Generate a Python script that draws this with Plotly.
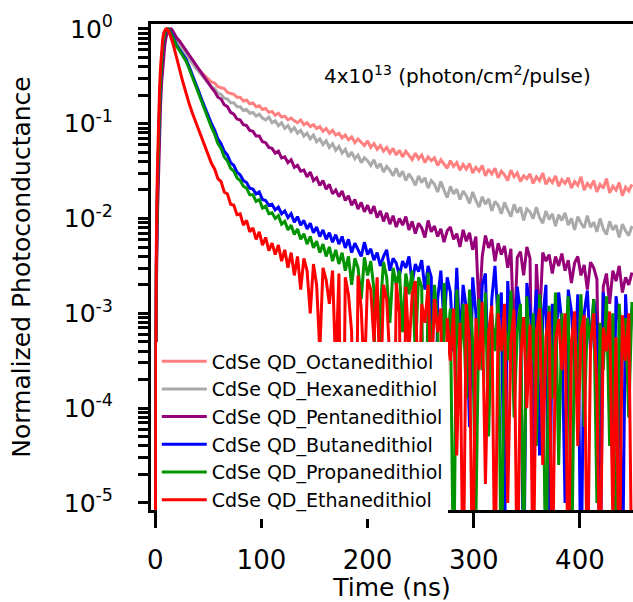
import plotly.graph_objects as go

# Sample times (ns): 1 ns steps through the rise, then 3 ns steps
time_ns = list(range(0, 21)) + list(range(23, 450, 3))

# log10 of normalized photoconductance
octane_log10 = [
    -6.0, -2.6, -1.8, -1.3, -0.95, -0.65, -0.42, -0.26, -0.15, -0.08, -0.04, -0.01, 0.0, 0.0, -0.01, -0.02, -0.04, -0.06, -0.08, -0.10, -0.12,
    -0.17, -0.22, -0.26, -0.31, -0.35, -0.40, -0.43, -0.47, -0.50, -0.52,
    -0.56, -0.57, -0.61, -0.62, -0.63, -0.67, -0.68, -0.69, -0.72, -0.72,
    -0.76, -0.75, -0.79, -0.78, -0.82, -0.81, -0.85, -0.84, -0.88, -0.87,
    -0.91, -0.89, -0.93, -0.92, -0.96, -0.94, -0.97, -0.99, -0.96, -1.01,
    -0.99, -1.03, -1.01, -1.05, -1.03, -1.08, -1.05, -1.10, -1.07, -1.12,
    -1.10, -1.15, -1.12, -1.17, -1.14, -1.20, -1.16, -1.19, -1.23, -1.18,
    -1.25, -1.21, -1.27, -1.23, -1.29, -1.25, -1.31, -1.26, -1.33, -1.28,
    -1.35, -1.29, -1.34, -1.38, -1.31, -1.37, -1.33, -1.41, -1.35, -1.39,
    -1.36, -1.44, -1.38, -1.42, -1.47, -1.39, -1.45, -1.41, -1.49, -1.43,
    -1.48, -1.42, -1.52, -1.46, -1.50, -1.44, -1.55, -1.48, -1.53, -1.47,
    -1.57, -1.50, -1.54, -1.60, -1.49, -1.56, -1.52, -1.61, -1.55, -1.58,
    -1.53, -1.63, -1.56, -1.60, -1.52, -1.64, -1.58, -1.62, -1.55, -1.66,
    -1.59, -1.63, -1.57, -1.68, -1.61, -1.65, -1.56, -1.70, -1.63, -1.67,
    -1.60, -1.72, -1.64, -1.68, -1.58, -1.73, -1.66, -1.70, -1.62, -1.76,
    -1.67, -1.71, -1.64,
]
hexane_log10 = [
    -6.0, -2.6, -1.8, -1.3, -0.95, -0.65, -0.42, -0.26, -0.15, -0.08, -0.04, -0.01, 0.0, 0.0, -0.01, -0.02, -0.04, -0.06, -0.08, -0.10, -0.12,
    -0.17, -0.22, -0.27, -0.32, -0.36, -0.41, -0.45, -0.49, -0.53, -0.56,
    -0.61, -0.63, -0.68, -0.69, -0.73, -0.74, -0.78, -0.78, -0.82, -0.82,
    -0.86, -0.85, -0.89, -0.88, -0.92, -0.90, -0.94, -0.96, -0.93, -0.99,
    -0.97, -1.02, -0.99, -1.05, -1.02, -1.08, -1.04, -1.10, -1.07, -1.13,
    -1.10, -1.16, -1.12, -1.19, -1.16, -1.22, -1.18, -1.25, -1.21, -1.28,
    -1.24, -1.31, -1.27, -1.35, -1.30, -1.37, -1.33, -1.41, -1.36, -1.39,
    -1.44, -1.38, -1.47, -1.42, -1.51, -1.45, -1.49, -1.55, -1.47, -1.56,
    -1.50, -1.60, -1.53, -1.58, -1.65, -1.55, -1.62, -1.57, -1.68, -1.60,
    -1.64, -1.72, -1.61, -1.70, -1.78, -1.66, -1.74, -1.69, -1.80, -1.71,
    -1.76, -1.84, -1.72, -1.81, -1.88, -1.77, -1.85, -1.79, -1.92, -1.82,
    -1.86, -1.95, -1.83, -1.91, -1.98, -1.85, -1.94, -1.88, -2.02, -1.90,
    -1.93, -2.00, -1.88, -1.99, -2.05, -1.92, -2.01, -1.95, -2.08, -1.96,
    -2.02, -1.94, -2.07, -2.00, -2.12, -1.98, -2.05, -2.10, -1.97, -2.09,
    -2.04, -2.14, -2.00, -2.11, -2.17, -2.03, -2.12, -2.07, -2.20, -2.06,
    -2.13, -2.18, -2.08,
]
pentane_log10 = [
    -6.0, -2.8, -2.0, -1.5, -1.1, -0.80, -0.57, -0.40, -0.27, -0.17, -0.10, -0.05, -0.02, -0.005, 0.0, 0.0, -0.01, -0.03, -0.05, -0.07, -0.09,
    -0.13, -0.18, -0.23, -0.28, -0.33, -0.38, -0.43, -0.48, -0.53, -0.57,
    -0.62, -0.66, -0.72, -0.74, -0.80, -0.82, -0.88, -0.90, -0.95, -0.96,
    -1.01, -1.02, -1.07, -1.08, -1.13, -1.13, -1.19, -1.20, -1.25, -1.26,
    -1.31, -1.29, -1.36, -1.35, -1.41, -1.38, -1.46, -1.44, -1.50, -1.49,
    -1.56, -1.51, -1.60, -1.57, -1.65, -1.60, -1.69, -1.64, -1.74, -1.70,
    -1.77, -1.71, -1.81, -1.76, -1.86, -1.80, -1.90, -1.83, -1.93, -1.86,
    -1.95, -1.87, -1.99, -1.92, -2.03, -1.94, -2.06, -1.97, -2.09, -2.00,
    -2.07, -1.98, -2.12, -2.03, -2.16, -2.05, -2.10, -2.20, -2.02, -2.14,
    -2.08, -2.19, -2.11, -2.25, -2.13, -2.09, -2.22, -2.16, -2.30, -2.12,
    -2.24, -2.15, -2.33, -2.19, -3.00, -2.40, -2.18, -2.31, -2.22, -2.45,
    -2.26, -2.38, -2.29, -2.52, -2.32, -3.30, -2.41, -2.35, -2.60, -2.30,
    -2.42, -4.70, -2.48, -3.10, -2.36, -2.45, -2.38, -2.58, -2.40, -2.50,
    -2.37, -2.55, -2.44, -2.68, -2.47, -2.40, -2.60, -2.49, -2.75, -2.46,
    -2.52, -2.64, -4.50, -2.72, -2.58, -2.90, -2.55, -2.66, -2.50, -2.78,
    -2.62, -2.70, -2.57,
]
butane_log10 = [
    -6.0, -2.5, -1.7, -1.2, -0.85, -0.56, -0.34, -0.19, -0.10, -0.04, -0.01, 0.0, 0.0, -0.01, -0.02, -0.04, -0.06, -0.08, -0.11, -0.14, -0.17,
    -0.22, -0.27, -0.32, -0.40, -0.48, -0.57, -0.66, -0.75, -0.84, -0.92,
    -1.00, -1.07, -1.16, -1.21, -1.29, -1.33, -1.41, -1.44, -1.51, -1.54,
    -1.60, -1.62, -1.68, -1.69, -1.74, -1.72, -1.80, -1.81, -1.86, -1.85,
    -1.91, -1.88, -1.95, -1.92, -1.99, -1.95, -2.04, -1.98, -2.07, -2.02,
    -2.11, -2.05, -2.15, -2.09, -2.19, -2.12, -2.22, -2.15, -2.25, -2.17,
    -2.27, -2.19, -2.31, -2.22, -2.36, -2.26, -2.33, -2.40, -2.25, -2.38,
    -2.32, -2.44, -2.36, -2.50, -2.40, -2.33, -2.55, -2.42, -2.47, -2.60,
    -2.45, -2.52, -2.40, -2.68, -2.48, -2.56, -2.44, -2.75, -2.50, -2.62,
    -6.00, -2.85, -2.55, -3.10, -2.62, -2.78, -3.40, -2.52, -3.30, -2.70,
    -2.95, -4.20, -2.62, -3.00, -3.50, -2.70, -2.58, -3.80, -2.85, -2.50,
    -3.10, -2.78, -5.50, -2.66, -3.20, -3.70, -2.72, -3.00, -6.00, -2.68,
    -2.95, -3.30, -2.75, -4.50, -3.05, -2.70, -6.00, -2.90, -3.40, -2.78,
    -3.10, -5.00, -2.75, -2.98, -3.60, -2.80, -6.00, -3.00, -2.76, -3.40,
    -2.85, -3.15, -6.00, -2.78, -3.30, -3.00, -4.80, -2.82, -3.10, -6.00,
    -2.80, -3.50, -2.95,
]
propane_log10 = [
    -6.0, -2.5, -1.7, -1.2, -0.85, -0.56, -0.34, -0.19, -0.10, -0.04, -0.01, 0.0, 0.0, -0.01, -0.03, -0.05, -0.07, -0.09, -0.12, -0.15, -0.18,
    -0.23, -0.28, -0.34, -0.42, -0.51, -0.60, -0.70, -0.79, -0.88, -0.96,
    -1.04, -1.11, -1.21, -1.26, -1.35, -1.39, -1.47, -1.50, -1.57, -1.60,
    -1.66, -1.68, -1.75, -1.75, -1.82, -1.80, -1.89, -1.87, -1.95, -1.94,
    -2.00, -1.97, -2.06, -2.03, -2.12, -2.07, -2.17, -2.11, -2.22, -2.16,
    -2.27, -2.19, -2.31, -2.24, -2.36, -2.27, -2.40, -2.30, -2.45, -2.33,
    -2.48, -2.36, -2.55, -2.40, -2.70, -2.42, -2.52, -2.85, -2.41, -2.60,
    -2.45, -2.75, -6.00, -2.95, -2.46, -2.62, -3.10, -2.52, -2.70, -2.55,
    -3.20, -2.58, -2.80, -2.55, -3.45, -2.62, -2.72, -6.00, -2.57, -3.60,
    -2.70, -3.10, -6.00, -2.68, -3.30, -2.95, -6.00, -2.75, -3.50, -2.90,
    -3.90, -2.75, -3.30, -5.20, -2.85, -3.60, -2.78, -4.30, -3.00, -3.40,
    -2.80, -6.00, -3.05, -3.50, -2.76, -4.10, -3.20, -2.90, -5.60, -2.82,
    -3.70, -3.00, -4.40, -2.80, -3.30, -6.00, -2.92, -3.90, -2.78, -4.60,
    -3.00, -3.40, -2.82, -6.00, -3.10, -3.70, -2.80, -4.20, -3.05, -3.30,
    -2.85, -5.00, -3.10, -3.60, -2.82, -4.40, -3.00, -6.00, -2.90, -3.50,
    -3.05, -4.10, -2.88,
]
ethane_log10 = [
    -6.0, -2.3, -1.5, -1.0, -0.65, -0.40, -0.23, -0.11, -0.04, -0.01, 0.0, 0.0, -0.01, -0.03, -0.06, -0.09, -0.13, -0.17, -0.21, -0.26, -0.30,
    -0.43, -0.56, -0.68, -0.79, -0.89, -0.98, -1.07, -1.16, -1.25, -1.33,
    -1.42, -1.48, -1.58, -1.61, -1.72, -1.74, -1.85, -1.86, -1.96, -1.95,
    -2.07, -2.02, -2.14, -2.10, -2.22, -2.14, -2.28, -2.20, -2.34, -2.26,
    -2.38, -2.28, -2.45, -2.33, -2.52, -2.36, -2.60, -2.40, -2.75, -2.42,
    -2.55, -3.00, -2.48, -2.70, -3.40, -2.52, -2.65, -2.90, -2.55, -3.60,
    -2.58, -6.00, -2.62, -2.80, -3.20, -6.00, -2.60, -2.95, -3.70, -2.64,
    -2.75, -3.30, -2.62, -4.00, -2.70, -2.85, -3.50, -6.00, -2.68, -3.00,
    -6.00, -2.72, -3.40, -2.80, -2.66, -4.20, -2.90, -3.10, -2.70, -3.80,
    -2.85, -3.20, -2.95, -6.00, -3.05, -3.50, -2.95, -4.50, -3.10, -6.00,
    -2.90, -3.30, -6.00, -3.05, -3.60, -2.88, -4.80, -3.20, -2.92, -6.00,
    -3.00, -3.40, -2.90, -5.00, -3.30, -2.96, -6.00, -3.50, -3.04, -4.00,
    -3.12, -6.00, -3.20, -2.95, -4.60, -3.25, -2.98, -6.00, -3.30, -3.06,
    -3.60, -3.00, -6.00, -3.30, -2.98, -4.40, -3.20, -3.02, -6.00, -3.35,
    -3.00, -3.80, -6.00, -3.15, -3.40, -2.98, -5.20, -3.25, -6.00, -3.02,
    -3.50, -3.00, -6.00,
]

series_names = [
    "CdSe QD_Octanedithiol",
    "CdSe QD_Hexanedithiol",
    "CdSe QD_Pentanedithiol",
    "CdSe QD_Butanedithiol",
    "CdSe QD_Propanedithiol",
    "CdSe QD_Ethanedithiol",
]
series_logs = [octane_log10, hexane_log10, pentane_log10, butane_log10, propane_log10, ethane_log10]
series_colors = ["#FF8080", "#AAAAAA", "#960078", "#0000FF", "#009400", "#FF0000"]

y_tick_exponents = [0, -1, -2, -3, -4, -5]
y_minor_digits = [2, 3, 4, 5, 6, 7, 8, 9]
x_tick_values = [0, 100, 200, 300, 400]

FONT = "DejaVu Sans"
X_RANGE = [-4, 450]
Y_RANGE = [-5.075, 0.052]

fig = go.Figure()
for name, logs, color in zip(series_names, series_logs, series_colors):
    assert len(logs) == len(time_ns), (name, len(logs))
    fig.add_trace(go.Scatter(
        x=time_ns,
        y=[10 ** v for v in logs],
        mode="lines",
        name=name,
        line=dict(color=color, width=3),
    ))

# y ticks: labelled decades plus unlabelled 2..9 minor ticks, all on the main log axis
major_vals = [10 ** e for e in y_tick_exponents]
major_text = ["10<sup>%d</sup>" % e for e in y_tick_exponents]
minor_vals = [d * 10 ** e for e in y_tick_exponents[1:] for d in y_minor_digits]
y_tickvals = major_vals + minor_vals
y_ticktext = major_text + [""] * len(minor_vals)

fig.update_layout(
    width=633, height=602,
    margin=dict(l=151, r=0, t=24, b=89),
    paper_bgcolor="white", plot_bgcolor="white",
    font=dict(family=FONT, color="black"),
    showlegend=True,
    legend=dict(
        x=0.012, y=0.345, xanchor="left", yanchor="top",
        bgcolor="white", borderwidth=0,
        font=dict(family=FONT, size=19, color="black"),
        itemwidth=45, tracegroupgap=0,
    ),
    xaxis=dict(
        range=X_RANGE,
        tickmode="array", tickvals=x_tick_values,
        ticks="outside", ticklen=15, tickwidth=3, tickcolor="black",
        showline=True, linewidth=3, linecolor="black", mirror=True,
        showgrid=False, zeroline=False,
        tickfont=dict(family=FONT, size=26),
        ticklabelstandoff=10,
        title=dict(text="Time (ns)", font=dict(family=FONT, size=25), standoff=9),
    ),
    yaxis=dict(
        type="log",
        range=Y_RANGE,
        tickmode="array",
        tickvals=y_tickvals,
        ticktext=y_ticktext,
        ticks="outside", ticklen=10, tickwidth=3, tickcolor="black",
        showline=True, linewidth=3, linecolor="black", mirror=False,
        showgrid=False, zeroline=False,
        tickfont=dict(family=FONT, size=25),
        ticklabelstandoff=20,
        title=dict(text="Normalized Photoconductance", font=dict(family=FONT, size=25), standoff=26),
    ),
    annotations=[dict(
        text="4x10<sup>13</sup> (photon/cm<sup>2</sup>/pulse)",
        xref="paper", yref="paper", x=0.635, y=0.896,
        xanchor="center", yanchor="middle", showarrow=False,
        font=dict(family=FONT, size=20, color="black"),
    )],
)

fig.write_html("out.html")
